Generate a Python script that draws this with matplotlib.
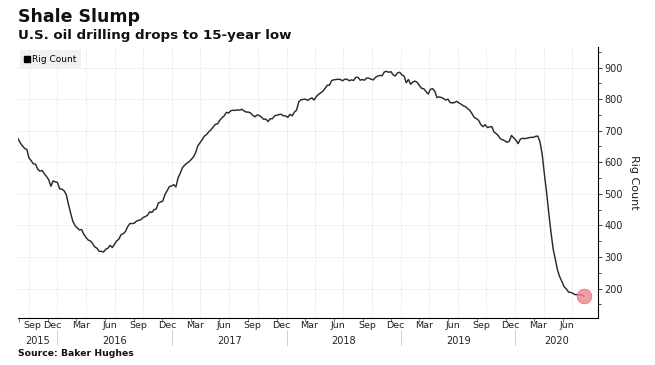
import numpy as np
import pandas as pd
import matplotlib
matplotlib.use("Agg")
import matplotlib.pyplot as plt
import matplotlib.transforms as mtrans
from matplotlib.lines import Line2D

# weekly U.S. oil rig count (Baker Hughes), Fridays from 2015-08-28
rigs_2015 = [675, 662, 652, 644, 641, 614, 605, 595, 594, 578, 572, 574, 564, 555,
             545, 524, 541, 538]
rigs_2016 = [536, 516, 515, 510, 498, 467, 439, 413, 400, 392, 386, 387, 372, 362,
             354, 351, 343, 332, 328, 318, 318, 316, 325, 328, 337, 330, 341, 351,
             357, 371, 374, 381, 396, 406, 406, 407, 414, 416, 418, 425, 428, 432,
             443, 441, 450, 452, 471, 474, 477, 498, 510, 523, 525]
rigs_2017 = [529, 522, 551, 566, 583, 591, 597, 602, 609, 617, 631, 652, 662, 672,
             683, 688, 697, 703, 712, 720, 722, 733, 741, 747, 758, 756, 763, 765,
             764, 766, 765, 768, 763, 759, 759, 756, 749, 744, 750, 748, 743, 736,
             737, 729, 738, 738, 747, 749, 751, 752, 747, 747]
rigs_2018 = [742, 752, 747, 759, 765, 791, 798, 799, 800, 796, 800, 804, 797, 808,
             815, 820, 825, 834, 844, 844, 859, 861, 862, 863, 862, 858, 863, 863,
             858, 861, 859, 869, 869, 860, 862, 860, 867, 866, 863, 861, 869, 873,
             875, 874, 886, 888, 885, 887, 877, 873, 883, 885]
rigs_2019 = [877, 873, 852, 862, 847, 854, 857, 853, 843, 834, 833, 824, 816, 831,
             833, 825, 805, 807, 805, 802, 797, 800, 789, 788, 789, 793, 788, 784,
             779, 776, 770, 764, 754, 742, 738, 733, 719, 713, 719, 710, 712, 713,
             696, 691, 684, 674, 671, 668, 663, 667, 685, 677]
rigs_2020 = [670, 659, 673, 676, 675, 676, 678, 679, 679, 682, 683, 664, 624, 562,
             504, 438, 378, 325, 292, 258, 237, 222, 206, 199, 189, 188, 185, 181,
             181, 180, 180, 176]

rigs = rigs_2015 + rigs_2016 + rigs_2017 + rigs_2018 + rigs_2019 + rigs_2020
dates = pd.date_range("2015-08-28", periods=len(rigs), freq="W-FRI")

years = [2015, 2016, 2017, 2018, 2019, 2020]
y_ticks = [200, 300, 400, 500, 600, 700, 800, 900]

x_start = pd.Timestamp("2015-08-28")
x_end = pd.Timestamp("2020-09-21")

fig = plt.figure(figsize=(6.55, 3.65), dpi=100)
ax = fig.add_axes([18 / 655, 47 / 365, 580 / 655, 271 / 365])

ax.plot(dates, rigs, color="#2b2b2b", lw=1.05, solid_joinstyle="round")
ax.plot(dates[-1:], rigs[-1:], "o", ms=10.5, color="#f28593", alpha=0.8,
        mec="#e06070", mew=0.6)

ax.set_xlim(x_start, x_end)
ax.set_ylim(107, 965)

# spines: only bottom and right
for s in ["top", "left"]:
    ax.spines[s].set_visible(False)
ax.spines["bottom"].set_linewidth(0.8)
ax.spines["right"].set_linewidth(0.8)

# y axis on the right
ax.yaxis.tick_right()
ax.set_yticks(y_ticks)
ax.set_yticks(np.arange(150, 951, 100), minor=True)
ax.tick_params(axis="y", which="major", length=3, width=0.6, pad=1.5, labelsize=7,
               colors="#222222", left=False)
ax.tick_params(axis="y", which="minor", length=2, width=0.5, left=False)
ax.yaxis.set_label_position("right")
ax.set_ylabel("Rig Count", rotation=270, fontsize=8, labelpad=12, color="#222222")

# x ticks at quarter month starts (up to the last data point), labels at mid month
q_starts = [d for d in pd.date_range("2015-09-01", dates[-1], freq="MS")
            if d.month in (3, 6, 9, 12)]
ax.set_xticks(q_starts)
ax.set_xticklabels([])
ax.tick_params(axis="x", length=3, width=0.5, colors="#444444")

grid_dates = [d for d in pd.date_range("2015-10-01", x_end, freq="MS") if d.month in (1, 4, 7, 10)]
for g in grid_dates:
    ax.axvline(g, color="#d8d8d8", lw=0.6, ls=(0, (1, 1.5)), zorder=0)
for yv in y_ticks:
    ax.axhline(yv, color="#d8d8d8", lw=0.6, ls=(0, (1, 1.5)), zorder=0)

trans = mtrans.blended_transform_factory(ax.transData, ax.transAxes)
for d in q_starts:
    mid = d + pd.Timedelta(days=14)
    name = d.strftime("%b")
    if (mid - x_start).days < 30:
        # first label is pushed inside the axis
        off = mtrans.ScaledTranslation(4 / 72, 0, fig.dpi_scale_trans)
        ax.text(0, -0.012, name, transform=ax.transAxes + off,
                ha="left", va="top", fontsize=6.8, color="#222222")
    else:
        ax.text(mid, -0.012, name, transform=trans, ha="center", va="top",
                fontsize=6.8, color="#222222")

# year row with separators
for yr in years:
    lo = max(pd.Timestamp(f"{yr}-01-01"), x_start)
    hi = min(pd.Timestamp(f"{yr + 1}-01-01"), x_end)
    ax.text(lo + (hi - lo) / 2, -0.065, str(yr), transform=trans, ha="center",
            va="top", fontsize=7, color="#222222")
    if yr > 2015:
        ax.plot([lo, lo], [-0.045, -0.1], transform=trans, color="#c8c8c8",
                lw=0.6, clip_on=False)

# legend box
handle = Line2D([], [], marker="s", color="black", ls="none", markersize=4.5)
leg = ax.legend([handle], ["Rig Count"], loc="upper left", bbox_to_anchor=(0.0, 0.995),
                fontsize=6.5, frameon=True, fancybox=False, handlelength=0.6,
                handletextpad=0.3, borderpad=0.5, borderaxespad=0.2)
leg.get_frame().set_facecolor("#eeeeee")
leg.get_frame().set_edgecolor("none")

fig.text(18 / 655, 1 - 17 / 365, "Shale Slump", fontsize=12.5, fontweight="bold",
         ha="left", va="center", color="#111111")
fig.text(18 / 655, 1 - 36 / 365, "U.S. oil drilling drops to 15-year low", fontsize=9.6,
         fontweight="bold", ha="left", va="center", color="#111111")
fig.text(18 / 655, 1 - 353 / 365, "Source: Baker Hughes", fontsize=6.7,
         fontweight="bold", ha="left", va="center", color="#111111")

fig.savefig("out.png", dpi=100)
